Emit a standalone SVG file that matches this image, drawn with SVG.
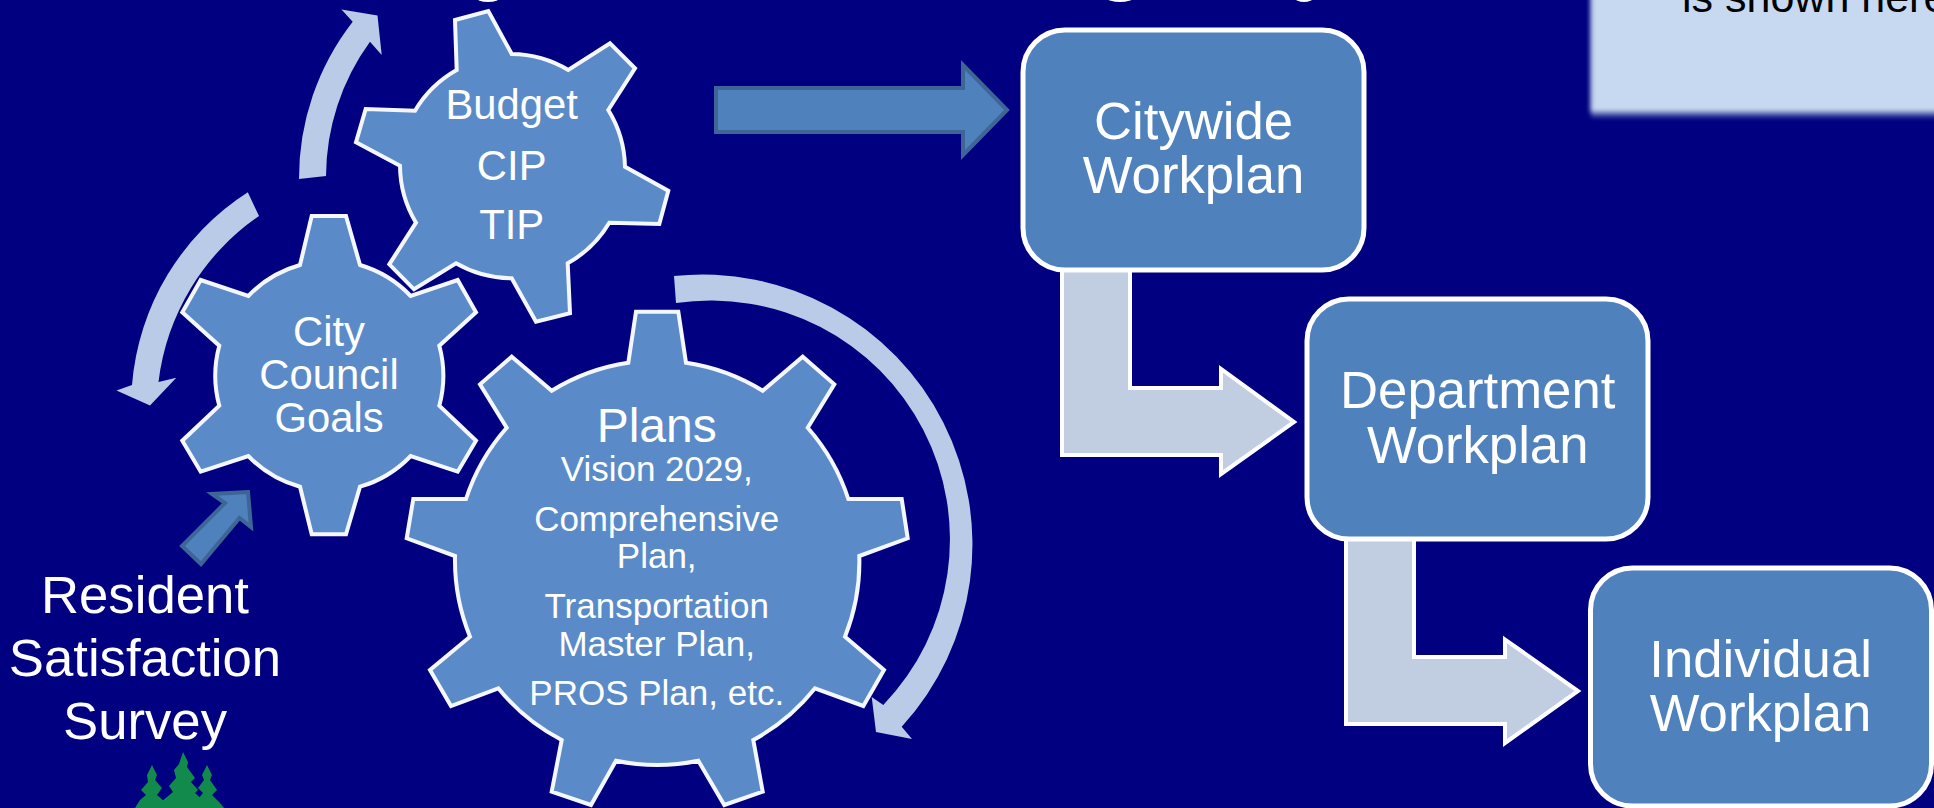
<svg xmlns="http://www.w3.org/2000/svg" width="1934" height="808" viewBox="0 0 1934 808">
<style>
text{font-family:"Liberation Sans",Arial,sans-serif;fill:#fff;text-anchor:middle}
.gear{fill:#5a8bc8;stroke:#f4f7fb;stroke-width:4;stroke-linejoin:miter}
.box{fill:#4f81bd;stroke:#fff;stroke-width:5}
.bent{fill:#c1cde1;stroke:#fff;stroke-width:4;stroke-miterlimit:10}
.curve{fill:#b9cbe7}
.block{fill:#4f81bd;stroke:#3d6595;stroke-width:4}
.tree{fill:#128a4c}
.t52{font-size:52.7px}.t41{font-size:41.8px}.t34{font-size:35px}
</style>
<defs><filter id="soft" x="-5%" y="-20%" width="110%" height="140%"><feGaussianBlur stdDeviation="2.5"/></filter></defs>
<rect width="1934" height="808" fill="#000080"/>
<g id="title-fragments" fill="#fff"><ellipse cx="488" cy="-2.5" rx="12" ry="4.5"/><ellipse cx="1120" cy="-2" rx="13" ry="4"/><ellipse cx="1304" cy="-2" rx="9" ry="4"/></g>
<g id="callout"><rect x="1591" y="-20" width="360" height="137" fill="#7f8fc4" opacity=".6" filter="url(#soft)"/><rect x="1591" y="-20" width="360" height="132" fill="#c6d9f1" filter="url(#soft)"/><text x="1682" y="11.7" font-size="43" style="fill:#000;text-anchor:start">is shown here</text></g>
<g id="connectors">
<path class="curve" d="M299,179 A255,255 0 0 1 352.7,21.7 L341.5,9.5 L377.5,15.5 L381.7,55 L370,41.7 A230,230 0 0 0 326,176 Z"/>
<path class="curve" d="M247.8,192.3 A253,253 0 0 0 132,385 L116.5,390.5 L150,405.5 L176.3,377.7 L158.5,382 A235,235 0 0 1 259,216 Z"/>
<path class="curve" d="M674,276 A270,270 0 0 1 901.7,726.7 L912,739 L876,732 L871.7,697 L883.3,705 A239,239 0 0 0 676,303 Z"/>
<polygon class="block" points="716,88 963,88 963,65 1007,110 963,155 963,132 716,132"/>
<polygon class="block" points="248,492 212,494 225,503 182,546 201,564 239.5,518 251,527"/>
<path class="bent" d="M1062,270 V455 H1221 V474 L1294,422 L1221,369 V388 H1130 V270"/>
<path class="bent" d="M1346,539 V724 H1505 V743 L1578,691 L1505,639.5 V657 H1414 V539"/>
</g>
<g id="gear-budget"><path class="gear" d="M455,20 L488.3,11 L511.7,54 A112.5,112.5 0 0 1 568.3,70 L610,43.3 L635,68.3 L608.3,110 A112.5,112.5 0 0 1 625,166.7 L668.3,190.7 L659.3,224 L609.3,222.7 A112.5,112.5 0 0 1 567.7,263.3 L570,313.3 L536,321.7 L511.7,278.3 A112.5,112.5 0 0 1 456,263.3 L414,289.3 L389.3,264.3 L416,222.7 A112.5,112.5 0 0 1 400,165.7 L356,142.3 L365.7,109 L415,110.7 A112.5,112.5 0 0 1 456.7,70 Z"/>
<text class="t41" x="511.7" y="119">Budget</text><text class="t41" x="511.7" y="180">CIP</text><text class="t41" x="511.7" y="239">TIP</text></g>
<g id="gear-council"><path class="gear" d="M311.7,216 L346,216 L360,265 A114,114 0 0 1 410.7,296 L457.7,280 L476,312.3 L439.3,345.7 A114,114 0 0 1 439.3,405.7 L476,440.7 L457.7,471.7 L410.7,456 A114,114 0 0 1 360,486.7 L346,534.3 L311.7,534.3 L300,486.7 A114,114 0 0 1 248.3,456 L200.7,471.7 L182.3,440.7 L219.3,405.7 A114,114 0 0 1 219.3,345.7 L182.3,312.3 L200.7,280 L248.3,296 A114,114 0 0 1 300,265 Z"/>
<text class="t41" x="329" y="346">City</text><text class="t41" x="329" y="389">Council</text><text class="t41" x="329" y="432">Goals</text></g>
<g id="gear-plans"><path class="gear" d="M636,311.7 L678.3,311.7 L686,362.7 A202,202 0 0 1 762.7,390.7 L802.7,356.7 L834.3,384.3 L807.7,427.7 A202,202 0 0 1 848.3,499 L901.7,499 L907.7,538.3 L859.3,556 A202,202 0 0 1 845,636.7 L884,670 L863.3,706 L815,688.3 A202,202 0 0 1 753.3,740 L762.7,791.7 L724.3,805 L698.3,760.7 A202,202 0 0 1 616,760.7 L591,805 L551.7,791.7 L561.7,740 A202,202 0 0 1 498.3,688.3 L451,706 L430,670 L470,636.7 A202,202 0 0 1 455,556 L406.7,538.3 L413.3,499 L466,499 A202,202 0 0 1 506.7,427.7 L480,384.3 L511.7,356.7 L551.7,390.7 A202,202 0 0 1 628.3,362.7 Z"/>
<text x="656.7" y="442" font-size="48">Plans</text><text class="t34" x="656.7" y="480.7">Vision 2029,</text><text class="t34" x="656.7" y="531">Comprehensive</text><text class="t34" x="656.7" y="568.3">Plan,</text><text class="t34" x="656.7" y="618.3">Transportation</text><text class="t34" x="656.7" y="655.7">Master Plan,</text><text class="t34" x="656.7" y="705">PROS Plan, etc.</text></g>
<g id="survey-label"><text class="t52" x="145" y="613">Resident</text><text class="t52" x="145" y="675.5">Satisfaction</text><text class="t52" x="145" y="739">Survey</text></g>
<g id="trees"><polygon class="tree" points="152,765 157,775 155,780 162,788 157,795 165,802 167,808 135,808 140,800 146,795 141,790 148,782 147,775"/><polygon class="tree" points="207,765 212,775 210,780 217,790 212,795 220,803 224,808 192,808 199,798 203,793 198,788 204,780 202,775"/><polygon class="tree" points="183,752 188,762 187,767 195,778 191,782 198,790 195,793 206,803 212,808 154,808 167,797 173,792 169,786 176,778 174,770 179,764"/></g>
<g id="box-citywide"><rect class="box" x="1023" y="30" width="341" height="240" rx="42"/><text class="t52" x="1193.6" y="138.5">Citywide</text><text class="t52" x="1193.6" y="193">Workplan</text></g>
<g id="box-department"><rect class="box" x="1307" y="299" width="341" height="240" rx="42"/><text class="t52" x="1477.7" y="407.5">Department</text><text class="t52" x="1477.7" y="462.5">Workplan</text></g>
<g id="box-individual"><rect class="box" x="1590.5" y="568" width="341" height="238" rx="42"/><text class="t52" x="1760.6" y="676.5">Individual</text><text class="t52" x="1760.6" y="731">Workplan</text></g>
</svg>
